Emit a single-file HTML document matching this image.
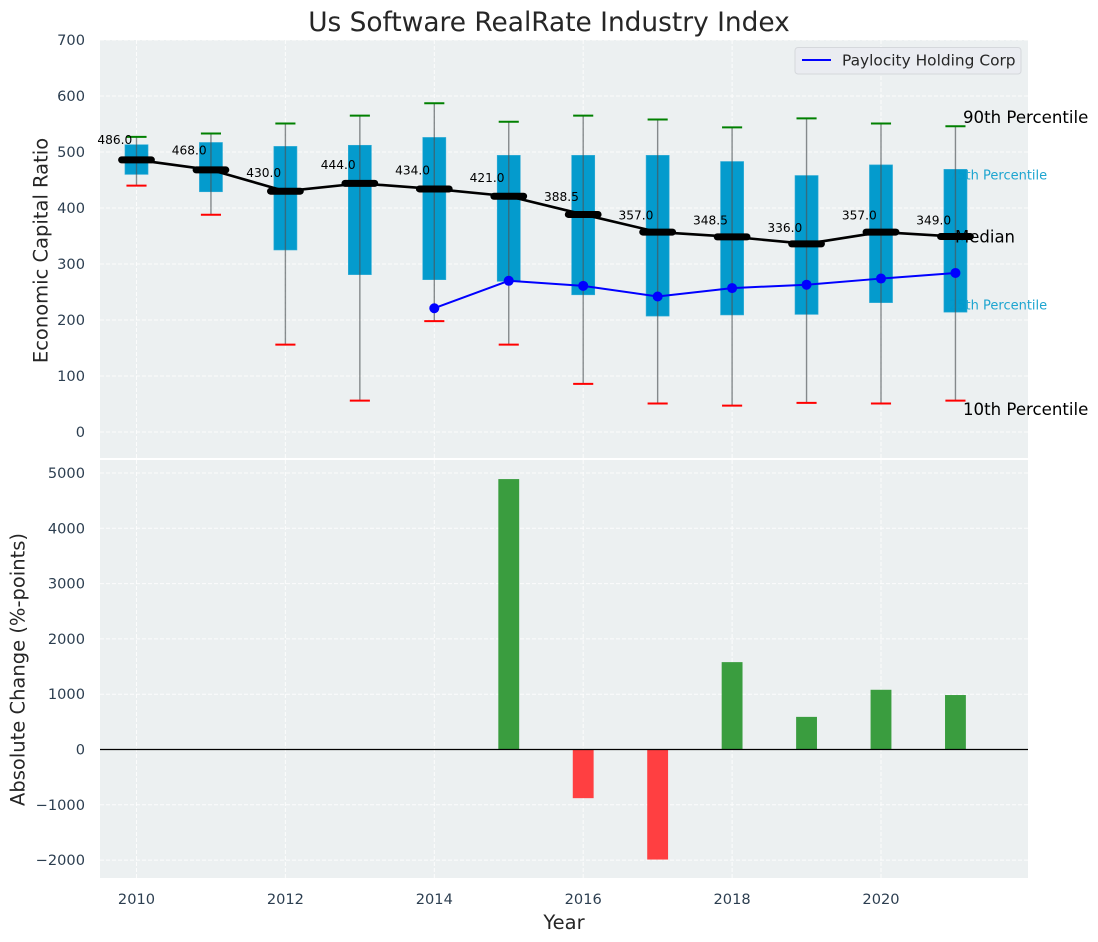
<!DOCTYPE html>
<html lang="en">
<head>
<meta charset="utf-8">
<title>Us Software RealRate Industry Index</title>
<style>
html,body{margin:0;padding:0;background:#fff;width:1098px;height:942px;overflow:hidden}
svg{display:block;font-family:"DejaVu Sans","Liberation Sans",sans-serif}
</style>
</head>
<body>
<svg id="chart" width="1098" height="942" viewBox="0 0 1098 942" xmlns="http://www.w3.org/2000/svg">
  <text x="549" y="31" text-anchor="middle" font-size="26.4" fill="#262626">Us Software RealRate Industry Index</text>
  <rect x="100" y="40" width="928" height="418" fill="#ecf0f1"/>
  <rect x="100" y="460" width="928" height="418" fill="#ecf0f1"/>
  <g id="grid"></g>
  <g id="annotations-under">
    <text x="949" y="179.5" font-size="13" fill="#1da5d0">75th Percentile</text>
    <text x="949" y="309.5" font-size="13" fill="#1da5d0">25th Percentile</text>
  </g>
  <g id="boxes"></g>
  <g id="whiskers"></g>
  <text x="955" y="242.5" font-size="16.5" fill="#000">Median</text>
  <g id="medians"></g>
  <g id="company"></g>
  <g id="bars"></g>
  <line x1="100" x2="1028" y1="749.5" y2="749.5" stroke="#000" stroke-width="1.3"/>
  <text x="963" y="123" font-size="16.6" fill="#000">90th Percentile</text>
  <text x="963" y="415" font-size="16.6" fill="#000">10th Percentile</text>
  <g id="ticks"></g>
  <g>
    <rect x="795" y="47.5" width="226" height="26.5" rx="3" fill="#eaecf1" stroke="#d5d8dc"/>
    <line x1="802" x2="831" y1="60" y2="60" stroke="#0000ff" stroke-width="2"/>
    <text x="842" y="65.5" font-size="15.4" fill="#262626">Paylocity Holding Corp</text>
  </g>
  <text transform="translate(47.5,250.5) rotate(-90)" text-anchor="middle" font-size="19.5" fill="#262626">Economic Capital Ratio</text>
  <text transform="translate(24.5,669.5) rotate(-90)" text-anchor="middle" font-size="19.5" fill="#262626">Absolute Change (%-points)</text>
  <text x="564" y="929" text-anchor="middle" font-size="19.5" fill="#262626">Year</text>
</svg>
<script>
const years = [2010, 2011, 2012, 2013, 2014, 2015, 2016, 2017, 2018, 2019, 2020, 2021];
const p90 = [527, 533, 551, 565, 587, 554, 565, 558, 544, 560, 551, 546];
const p75 = [513, 517, 510, 512, 526, 494, 494, 494, 483, 458, 477, 469];
const median = [486, 468, 430, 444, 434, 421, 388.5, 357, 348.5, 336, 357, 349];
const p25 = [460, 429, 325, 281, 272, 269, 245, 207, 209, 210, 231, 214];
const p10 = [440, 388, 156, 56, 198, 156, 86, 51, 47, 52, 51, 56];
const companyYears = [2014, 2015, 2016, 2017, 2018, 2019, 2020, 2021];
const companyValues = [221, 270, 261, 242, 257, 263, 274, 284];
const changeYears = [2015, 2016, 2017, 2018, 2019, 2020, 2021];
const changeValues = [4890, -880, -1990, 1580, 590, 1080, 985];
const xTicks = [2010, 2012, 2014, 2016, 2018, 2020];
const topTicks = [0, 100, 200, 300, 400, 500, 600, 700];
const bottomTicks = [-2000, -1000, 0, 1000, 2000, 3000, 4000, 5000];

const NS = 'http://www.w3.org/2000/svg';
const sx = function (v) { return 136.5 + (v - 2010) * 74.45; };
const sTop = function (v) { return 432 - v * 0.56; };
const sBottom = function (v) { return 749.5 - v * 0.0553; };
const yearUnits = function (w) { return w * 74.45; };

function make(parent, tag, attrs) {
  const el = document.createElementNS(NS, tag);
  Object.keys(attrs).forEach(function (k) { el.setAttribute(k, attrs[k]); });
  document.getElementById(parent).appendChild(el);
  return el;
}

xTicks.forEach(function (t) {
  [[40, 458], [460, 878]].forEach(function (r) {
    const g = make('grid', 'line', { x1: sx(t), x2: sx(t), y1: r[0], y2: r[1], stroke: '#fff', 'stroke-width': 1, 'stroke-dasharray': '4 2', opacity: 0.85 });
    
    
  });
  const l = make('ticks', 'text', { x: sx(t), y: 904, 'text-anchor': 'middle', 'font-size': 14.6, fill: '#2c3e50' });
  
  
  l.textContent = String(t);
});

topTicks.forEach(function (t) {
  const g = make('grid', 'line', { x1: 100, x2: 1028, y1: sTop(t), y2: sTop(t), stroke: '#fff', 'stroke-width': 1, 'stroke-dasharray': '4 2', opacity: 0.85 });
  
  
  const l = make('ticks', 'text', { x: 85, y: sTop(t) + 5, 'text-anchor': 'end', 'font-size': 14.6, fill: '#2c3e50' });
  
  
  l.textContent = String(t);
});

bottomTicks.forEach(function (t) {
  const g = make('grid', 'line', { x1: 100, x2: 1028, y1: sBottom(t), y2: sBottom(t), stroke: '#fff', 'stroke-width': 1, 'stroke-dasharray': '4 2', opacity: 0.85 });
  
  
  const l = make('ticks', 'text', { x: 85, y: sBottom(t) + 5, 'text-anchor': 'end', 'font-size': 14.6, fill: '#2c3e50' });
  
  
  l.textContent = String(t).replace('-', '\u2212');
});

years.forEach(function (yr, i) {
  const cx = sx(yr);
  const boxW = yearUnits(0.31);
  const box = make('boxes', 'rect', { x: cx - boxW / 2, y: sTop(p75[i]), width: boxW, height: sTop(p25[i]) - sTop(p75[i]), fill: '#0099cc', stroke: '#33add6', 'stroke-width': 0.6, 'fill-opacity': 0.985 });
  
  

  const stem = make('whiskers', 'line', { x1: cx, x2: cx, y1: sTop(p90[i]), y2: sTop(p10[i]), stroke: '#4d5356', 'stroke-width': 1.4, opacity: 0.65 });
  
  

  const capW = yearUnits(0.27);
  const top = make('whiskers', 'line', { x1: cx - capW / 2, x2: cx + capW / 2, y1: sTop(p90[i]), y2: sTop(p90[i]), stroke: '#008000', 'stroke-width': 2 });
  
  
  const bot = make('whiskers', 'line', { x1: cx - capW / 2, x2: cx + capW / 2, y1: sTop(p10[i]), y2: sTop(p10[i]), stroke: '#ff0000', 'stroke-width': 2 });
  
  
});

const medianLine = make('medians', 'polyline', {
  points: years.map(function (yr, i) { return sx(yr) + ',' + sTop(median[i]); }).join(' '),
  fill: 'none', stroke: '#000', 'stroke-width': 2.6, 'stroke-linejoin': 'round'
});



years.forEach(function (yr, i) {
  const cx = sx(yr);
  const cy = sTop(median[i]);
  const halfW = yearUnits(0.31 / 2 + 0.045);
  const m = make('medians', 'line', { x1: cx - halfW, x2: cx + halfW, y1: cy, y2: cy, stroke: '#000', 'stroke-width': 7, 'stroke-linecap': 'round' });
  
  
  const t = make('medians', 'text', { x: cx - 21.7, y: cy - (3.5 + 0.025 * median[i]), 'text-anchor': 'middle', 'font-size': 12.2, fill: '#000' });
  
  
  t.textContent = median[i].toFixed(1);
});

const companyLine = make('company', 'polyline', {
  points: companyYears.map(function (yr, i) { return sx(yr) + ',' + sTop(companyValues[i]); }).join(' '),
  fill: 'none', stroke: '#0000ff', 'stroke-width': 2
});



companyYears.forEach(function (yr, i) {
  const p = make('company', 'circle', { cx: sx(yr), cy: sTop(companyValues[i]), r: 5, fill: '#0000ff' });
  
  
});

changeYears.forEach(function (yr, i) {
  const v = changeValues[i];
  const w = yearUnits(0.28);
  const y0 = sBottom(Math.max(v, 0));
  const y1 = sBottom(Math.min(v, 0));
  const b = make('bars', 'rect', { x: sx(yr) - w / 2, y: y0, width: w, height: y1 - y0, fill: v >= 0 ? '#3a9d3f' : '#ff3f41' });
  
  
});
</script>
</body>
</html>
